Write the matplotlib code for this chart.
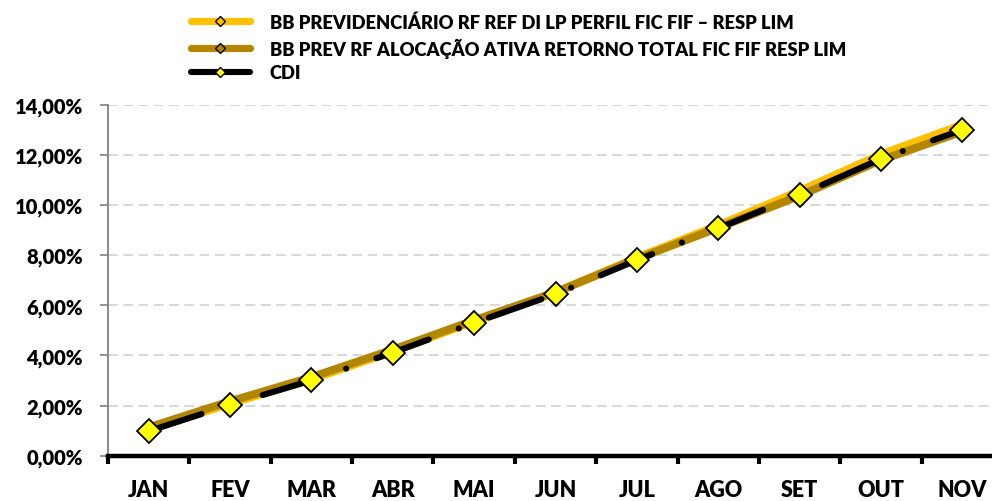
import matplotlib
matplotlib.use("Agg")
import matplotlib.pyplot as plt
from matplotlib.lines import Line2D
from matplotlib.ticker import FixedLocator, FuncFormatter

plt.rcParams['font.family'] = ['Lato', 'DejaVu Sans']
plt.rcParams['font.weight'] = 'heavy'
plt.rcParams['lines.scale_dashes'] = False

months = ["JAN", "FEV", "MAR", "ABR", "MAI", "JUN", "JUL", "AGO", "SET", "OUT", "NOV"]
labels = ["BB PREVIDENCIÁRIO RF REF DI LP PERFIL FIC FIF – RESP LIM",
          "BB PREV RF ALOCAÇÃO ATIVA RETORNO TOTAL FIC FIF RESP LIM",
          "CDI"]
prev_ref_di = [1.04, 2.08, 3.05, 4.16, 5.36, 6.52, 7.90, 9.19, 10.56, 12.02, 13.20]
prev_alocacao = [1.13, 2.17, 3.13, 4.23, 5.40, 6.52, 7.85, 9.09, 10.37, 11.79, 12.93]
cdi = [0.98, 2.03, 3.00, 4.11, 5.30, 6.44, 7.80, 9.07, 10.40, 11.84, 13.00]

c_yellow = '#FFC000'
c_gold = '#B38600'

fig = plt.figure(figsize=(9.92, 5.02), dpi=100)
ax = fig.add_axes([108/992, 45.3/502, 895/992, 351/502])

x = list(range(len(months)))
ax.plot(x, prev_ref_di, color=c_yellow, lw=5.8, solid_capstyle='butt', zorder=3)
ax.plot(x, prev_alocacao, color=c_gold, lw=5.8, solid_capstyle='butt', zorder=4)
ax.plot(x, cdi, color='black', lw=4.4, dash_capstyle='round',
        linestyle=(0, (40, 23, 0.1, 23)), marker='D', markersize=12.5,
        markerfacecolor='#FFFF00', markeredgecolor='black', markeredgewidth=1.3, zorder=5)

ax.set_xlim(-0.5, len(months) - 0.5)
ax.set_ylim(0, 14)
ax.yaxis.set_major_locator(FixedLocator([0, 2, 4, 6, 8, 10, 12, 14]))
ax.yaxis.set_major_formatter(FuncFormatter(lambda v, p: f"{v:.2f}".replace('.', ',') + '%'))
ax.grid(axis='y', color='#D9D9D9', lw=1.5, linestyle=(0, (7, 4)), zorder=0)
ax.set_axisbelow(True)

ax.set_xticks(x)
ax.set_xticklabels(months)
ax.set_xticks([i - 0.5 for i in range(len(months) + 1)], minor=True)
ax.tick_params(axis='x', which='major', length=0, pad=17, labelsize=15.5)
ax.tick_params(axis='x', which='minor', length=6, width=3, color='black', direction='out')
ax.tick_params(axis='y', length=6, width=1.2, color='#808080', labelsize=14.5, pad=12)

for s in ['top', 'right']:
    ax.spines[s].set_visible(False)
ax.spines['left'].set_color('#808080')
ax.spines['left'].set_linewidth(1.3)
ax.spines['bottom'].set_color('black')
ax.spines['bottom'].set_linewidth(3.2)
ax.spines['bottom'].set_zorder(6)

handles = [
    Line2D([], [], color=c_yellow, lw=5.2, solid_capstyle='round', marker='D', markersize=5,
           markerfacecolor=c_yellow, markeredgecolor='black', markeredgewidth=1),
    Line2D([], [], color=c_gold, lw=5.2, solid_capstyle='round', marker='D', markersize=5,
           markerfacecolor=c_gold, markeredgecolor='black', markeredgewidth=1),
    Line2D([], [], color='black', lw=4.4, solid_capstyle='round', marker='D', markersize=5,
           markerfacecolor='#FFFF00', markeredgecolor='black', markeredgewidth=1),
]
leg = fig.legend(handles, labels, loc='upper left', bbox_to_anchor=(178/992, 0.997),
                 frameon=False, handlelength=3.2, handletextpad=1.1,
                 labelspacing=0.36, borderaxespad=0.3, prop={'weight': 'heavy', 'size': 13.2})

fig.savefig('out.png', dpi=100)
